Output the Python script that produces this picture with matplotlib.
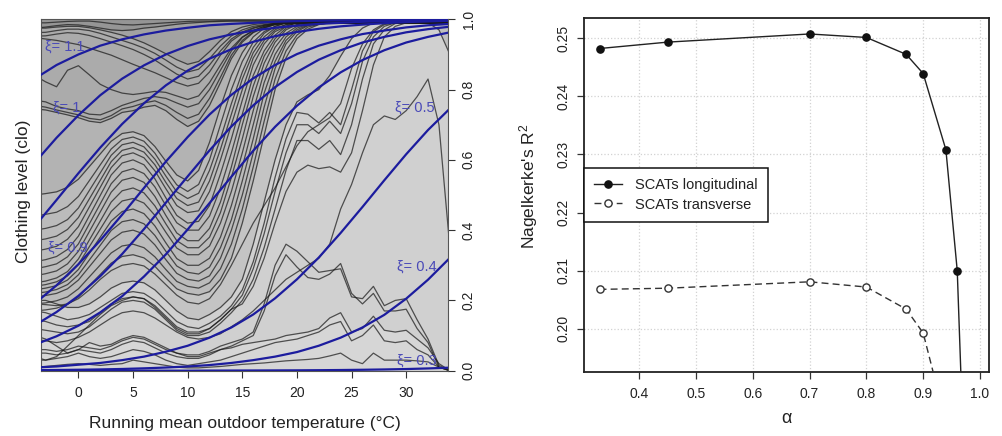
import matplotlib
matplotlib.use("Agg")
import matplotlib.pyplot as plt

plt.rcParams['font.family'] = ['Liberation Sans', 'DejaVu Sans']
plt.rcParams['mathtext.default'] = 'regular'

# ---------------- left panel data ----------------
temp_grid = [-4, -3, -2, -1, 0, 1, 2, 3, 4, 5, 6, 7, 8, 9, 10, 11, 12, 13, 14, 15,
             16, 17, 18, 19, 20, 21, 22, 23, 24, 25, 26, 27, 28, 29, 30, 31, 32, 33, 34]

top_1 = [0.990, 0.990, 0.992, 0.994, 0.995, 0.995, 0.992, 0.988, 0.985, 0.984,
         0.986, 0.988, 0.990, 0.992, 0.994, 0.995, 0.995, 0.996, 0.996, 0.996,
         0.996, 0.996, 0.996, 0.996, 0.996, 0.996, 0.996, 0.996, 0.996, 0.996,
         0.996, 0.996, 0.996, 0.996, 0.996, 0.995, 0.993, 0.990, 0.985]
top_2 = [0.975, 0.978, 0.982, 0.985, 0.984, 0.980, 0.975, 0.970, 0.968, 0.970,
         0.975, 0.978, 0.982, 0.986, 0.989, 0.991, 0.993, 0.994, 0.995, 0.995,
         0.995, 0.994, 0.993, 0.992, 0.992, 0.992, 0.993, 0.994, 0.995, 0.995,
         0.995, 0.995, 0.995, 0.995, 0.995, 0.995, 0.990, 0.970, 0.900]

v_1 = [0.975, 0.975, 0.978, 0.980, 0.980, 0.976, 0.970, 0.963, 0.955, 0.945,
       0.933, 0.918, 0.902, 0.885, 0.872, 0.880, 0.908, 0.940, 0.965, 0.978,
       0.985, 0.989, 0.991, 0.992, 0.993, 0.993, 0.993, 0.993, 0.994, 0.994,
       0.994, 0.994, 0.994, 0.994, 0.994, 0.994, 0.994, 0.994, 0.994]
v_2 = [0.962, 0.963, 0.968, 0.972, 0.972, 0.968, 0.960, 0.950, 0.940, 0.930,
       0.918, 0.903, 0.884, 0.864, 0.850, 0.858, 0.888, 0.924, 0.953, 0.970,
       0.980, 0.985, 0.989, 0.991, 0.992, 0.992, 0.992, 0.992, 0.993, 0.993,
       0.993, 0.993, 0.993, 0.993, 0.993, 0.993, 0.993, 0.993, 0.993]
v_3 = [0.952, 0.953, 0.958, 0.962, 0.960, 0.954, 0.945, 0.935, 0.925, 0.914,
       0.900, 0.884, 0.864, 0.844, 0.830, 0.838, 0.870, 0.910, 0.944, 0.964,
       0.976, 0.983, 0.988, 0.990, 0.991, 0.991, 0.991, 0.992, 0.992, 0.992,
       0.992, 0.992, 0.992, 0.992, 0.992, 0.992, 0.992, 0.992, 0.992]
v_4 = [0.840, 0.822, 0.808, 0.855, 0.868, 0.842, 0.815, 0.800, 0.790, 0.786,
       0.790, 0.795, 0.792, 0.782, 0.772, 0.782, 0.820, 0.870, 0.918, 0.950,
       0.968, 0.980, 0.987, 0.990, 0.991, 0.991, 0.991, 0.991, 0.991, 0.991,
       0.991, 0.991, 0.991, 0.991, 0.991, 0.991, 0.991, 0.991, 0.991]
v_5 = [0.948, 0.944, 0.940, 0.934, 0.928, 0.918, 0.908, 0.898, 0.885, 0.872,
       0.860, 0.848, 0.834, 0.820, 0.810, 0.818, 0.850, 0.898, 0.938, 0.960,
       0.974, 0.983, 0.988, 0.990, 0.991, 0.991, 0.991, 0.991, 0.991, 0.991,
       0.991, 0.991, 0.991, 0.991, 0.991, 0.991, 0.991, 0.991, 0.991]
v_6 = [0.745, 0.742, 0.735, 0.728, 0.720, 0.710, 0.706, 0.718, 0.735, 0.740,
       0.750, 0.755, 0.740, 0.715, 0.695, 0.710, 0.755, 0.820, 0.888, 0.935,
       0.962, 0.976, 0.985, 0.989, 0.990, 0.990, 0.990, 0.990, 0.990, 0.990,
       0.990, 0.990, 0.990, 0.990, 0.990, 0.990, 0.990, 0.990, 0.990]
v_7 = [0.755, 0.750, 0.742, 0.735, 0.728, 0.718, 0.714, 0.726, 0.745, 0.752,
       0.762, 0.768, 0.755, 0.735, 0.718, 0.730, 0.775, 0.835, 0.898, 0.940,
       0.964, 0.977, 0.986, 0.989, 0.990, 0.990, 0.990, 0.990, 0.990, 0.990,
       0.990, 0.990, 0.990, 0.990, 0.990, 0.990, 0.990, 0.990, 0.990]
v_8 = [0.770, 0.765, 0.752, 0.745, 0.740, 0.730, 0.728, 0.740, 0.755, 0.765,
       0.775, 0.780, 0.775, 0.762, 0.750, 0.760, 0.800, 0.855, 0.910, 0.948,
       0.968, 0.980, 0.987, 0.990, 0.990, 0.990, 0.990, 0.990, 0.990, 0.990,
       0.990, 0.990, 0.990, 0.990, 0.990, 0.990, 0.990, 0.990, 0.990]

w_1 = [0.500, 0.504, 0.509, 0.522, 0.545, 0.581, 0.617, 0.653, 0.675, 0.680,
       0.669, 0.638, 0.596, 0.557, 0.540, 0.570, 0.650, 0.750, 0.840, 0.905,
       0.950, 0.975, 0.985, 0.990, 0.990, 0.990, 0.990, 0.990, 0.990, 0.990,
       0.990, 0.990, 0.990, 0.990, 0.990, 0.990, 0.990, 0.990, 0.990]
w_2 = [0.440, 0.445, 0.451, 0.467, 0.496, 0.541, 0.586, 0.631, 0.658, 0.665,
       0.653, 0.619, 0.572, 0.529, 0.510, 0.530, 0.600, 0.700, 0.800, 0.880,
       0.935, 0.965, 0.980, 0.990, 0.990, 0.990, 0.990, 0.990, 0.990, 0.990,
       0.990, 0.990, 0.990, 0.990, 0.990, 0.990, 0.990, 0.990, 0.990]
w_3 = [0.400, 0.405, 0.413, 0.430, 0.463, 0.513, 0.563, 0.613, 0.643, 0.650,
       0.637, 0.602, 0.554, 0.509, 0.490, 0.505, 0.570, 0.660, 0.760, 0.850,
       0.920, 0.960, 0.980, 0.990, 0.990, 0.990, 0.990, 0.990, 0.990, 0.990,
       0.990, 0.990, 0.990, 0.990, 0.990, 0.990, 0.990, 0.990, 0.990]
w_4 = [0.370, 0.375, 0.383, 0.402, 0.436, 0.489, 0.542, 0.595, 0.627, 0.635,
       0.622, 0.586, 0.536, 0.490, 0.470, 0.480, 0.540, 0.630, 0.730, 0.830,
       0.905, 0.950, 0.975, 0.985, 0.990, 0.990, 0.990, 0.990, 0.990, 0.990,
       0.990, 0.990, 0.990, 0.990, 0.990, 0.990, 0.990, 0.990, 0.990]
w_5 = [0.340, 0.346, 0.354, 0.374, 0.410, 0.466, 0.522, 0.578, 0.612, 0.620,
       0.606, 0.569, 0.518, 0.470, 0.450, 0.455, 0.510, 0.600, 0.700, 0.800,
       0.890, 0.940, 0.970, 0.985, 0.990, 0.990, 0.990, 0.990, 0.990, 0.990,
       0.990, 0.990, 0.990, 0.990, 0.990, 0.990, 0.990, 0.990, 0.990]
w_6 = [0.310, 0.316, 0.325, 0.345, 0.383, 0.441, 0.499, 0.557, 0.591, 0.600,
       0.586, 0.546, 0.492, 0.442, 0.420, 0.425, 0.470, 0.560, 0.660, 0.770,
       0.870, 0.930, 0.965, 0.980, 0.990, 0.990, 0.990, 0.990, 0.990, 0.990,
       0.990, 0.990, 0.990, 0.990, 0.990, 0.990, 0.990, 0.990, 0.990]
w_7 = [0.290, 0.296, 0.304, 0.324, 0.361, 0.418, 0.475, 0.532, 0.566, 0.575,
       0.561, 0.523, 0.470, 0.421, 0.400, 0.400, 0.440, 0.520, 0.620, 0.730,
       0.840, 0.910, 0.955, 0.980, 0.990, 0.990, 0.990, 0.990, 0.990, 0.990,
       0.990, 0.990, 0.990, 0.990, 0.990, 0.990, 0.990, 0.990, 0.990]
w_8 = [0.270, 0.276, 0.284, 0.304, 0.340, 0.396, 0.452, 0.508, 0.542, 0.550,
       0.536, 0.496, 0.442, 0.392, 0.370, 0.370, 0.405, 0.480, 0.580, 0.700,
       0.810, 0.895, 0.945, 0.975, 0.985, 0.990, 0.990, 0.990, 0.990, 0.990,
       0.990, 0.990, 0.990, 0.990, 0.990, 0.990, 0.990, 0.990, 0.990]
w_9 = [0.250, 0.255, 0.264, 0.282, 0.318, 0.372, 0.426, 0.480, 0.512, 0.520,
       0.506, 0.469, 0.418, 0.370, 0.350, 0.350, 0.380, 0.450, 0.550, 0.660,
       0.780, 0.875, 0.935, 0.970, 0.985, 0.990, 0.990, 0.990, 0.990, 0.990,
       0.990, 0.990, 0.990, 0.990, 0.990, 0.990, 0.990, 0.990, 0.990]
w_10 = [0.240, 0.245, 0.253, 0.270, 0.303, 0.353, 0.403, 0.453, 0.483, 0.490,
        0.477, 0.442, 0.394, 0.349, 0.330, 0.330, 0.355, 0.420, 0.510, 0.620,
        0.740, 0.850, 0.920, 0.960, 0.980, 0.988, 0.990, 0.990, 0.990, 0.990,
        0.990, 0.990, 0.990, 0.990, 0.990, 0.990, 0.990, 0.990, 0.990]
w_11 = [0.230, 0.235, 0.242, 0.258, 0.288, 0.334, 0.380, 0.426, 0.453, 0.460,
        0.447, 0.412, 0.364, 0.319, 0.300, 0.300, 0.320, 0.380, 0.470, 0.580,
        0.700, 0.820, 0.900, 0.950, 0.975, 0.986, 0.990, 0.990, 0.990, 0.990,
        0.990, 0.990, 0.990, 0.990, 0.990, 0.990, 0.990, 0.990, 0.990]
w_12 = [0.220, 0.224, 0.231, 0.245, 0.273, 0.315, 0.357, 0.399, 0.424, 0.430,
        0.418, 0.385, 0.340, 0.298, 0.280, 0.275, 0.295, 0.350, 0.430, 0.540,
        0.660, 0.790, 0.880, 0.940, 0.970, 0.984, 0.990, 0.990, 0.990, 0.990,
        0.990, 0.990, 0.990, 0.990, 0.990, 0.990, 0.990, 0.990, 0.990]
w_13 = [0.210, 0.214, 0.220, 0.233, 0.258, 0.296, 0.334, 0.372, 0.394, 0.400,
        0.389, 0.358, 0.316, 0.277, 0.260, 0.255, 0.270, 0.320, 0.400, 0.500,
        0.620, 0.750, 0.860, 0.930, 0.965, 0.982, 0.988, 0.990, 0.990, 0.990,
        0.990, 0.990, 0.990, 0.990, 0.990, 0.990, 0.990, 0.990, 0.990]
w_14 = [0.190, 0.193, 0.199, 0.210, 0.233, 0.267, 0.301, 0.335, 0.355, 0.360,
        0.350, 0.324, 0.288, 0.254, 0.240, 0.235, 0.250, 0.290, 0.360, 0.460,
        0.580, 0.710, 0.830, 0.910, 0.955, 0.978, 0.986, 0.990, 0.990, 0.990,
        0.990, 0.990, 0.990, 0.990, 0.990, 0.990, 0.990, 0.990, 0.990]
w_15 = [0.170, 0.173, 0.178, 0.189, 0.210, 0.242, 0.274, 0.306, 0.325, 0.330,
        0.321, 0.297, 0.264, 0.233, 0.220, 0.215, 0.225, 0.260, 0.320, 0.420,
        0.540, 0.670, 0.800, 0.890, 0.945, 0.972, 0.985, 0.990, 0.990, 0.990,
        0.990, 0.990, 0.990, 0.990, 0.990, 0.990, 0.990, 0.990, 0.990]

c_1 = [0.200, 0.200, 0.190, 0.180, 0.180, 0.190, 0.210, 0.235, 0.250, 0.255,
       0.250, 0.230, 0.200, 0.170, 0.150, 0.145, 0.160, 0.180, 0.210, 0.260,
       0.360, 0.480, 0.600, 0.700, 0.765, 0.785, 0.800, 0.840, 0.895, 0.945,
       0.975, 0.990, 0.992, 0.992, 0.992, 0.992, 0.992, 0.992, 0.992]
c_2 = [0.170, 0.165, 0.155, 0.145, 0.150, 0.160, 0.180, 0.200, 0.220, 0.225,
       0.220, 0.200, 0.170, 0.140, 0.125, 0.120, 0.135, 0.155, 0.185, 0.230,
       0.310, 0.420, 0.550, 0.660, 0.735, 0.730, 0.705, 0.735, 0.700, 0.800,
       0.910, 0.965, 0.985, 0.990, 0.990, 0.990, 0.990, 0.990, 0.990]
c_3 = [0.145, 0.140, 0.130, 0.125, 0.130, 0.140, 0.165, 0.190, 0.205, 0.210,
       0.205, 0.185, 0.155, 0.125, 0.110, 0.110, 0.120, 0.145, 0.175, 0.215,
       0.290, 0.390, 0.510, 0.620, 0.700, 0.700, 0.675, 0.710, 0.675, 0.760,
       0.880, 0.950, 0.980, 0.990, 0.990, 0.990, 0.990, 0.990, 0.990]
c_4 = [0.120, 0.115, 0.110, 0.105, 0.110, 0.125, 0.150, 0.175, 0.195, 0.200,
       0.195, 0.175, 0.145, 0.115, 0.100, 0.100, 0.110, 0.135, 0.165, 0.200,
       0.260, 0.350, 0.460, 0.570, 0.655, 0.655, 0.630, 0.655, 0.615, 0.700,
       0.830, 0.930, 0.970, 0.988, 0.990, 0.990, 0.990, 0.990, 0.990]
c_5 = [0.040, 0.030, 0.040, 0.070, 0.100, 0.130, 0.160, 0.185, 0.200, 0.210,
       0.205, 0.180, 0.150, 0.120, 0.105, 0.105, 0.120, 0.145, 0.175, 0.190,
       0.240, 0.320, 0.420, 0.510, 0.565, 0.585, 0.575, 0.580, 0.565, 0.620,
       0.740, 0.870, 0.950, 0.980, 0.990, 0.990, 0.990, 0.990, 0.990]

lone_1 = [0.090, 0.085, 0.080, 0.085, 0.095, 0.110, 0.130, 0.150, 0.165, 0.170,
          0.165, 0.150, 0.130, 0.110, 0.095, 0.090, 0.095, 0.105, 0.125, 0.145,
          0.170, 0.200, 0.230, 0.260, 0.280, 0.300, 0.320, 0.360, 0.460, 0.530,
          0.620, 0.700, 0.725, 0.715, 0.740, 0.780, 0.830, 0.700, 0.350]
lone_2 = [0.190, 0.188, 0.185, 0.190, 0.205, 0.230, 0.260, 0.285, 0.300, 0.305,
          0.298, 0.275, 0.245, 0.215, 0.195, 0.190, 0.205, 0.245, 0.300, 0.360,
          0.420, 0.470, 0.520, 0.580, 0.640, 0.680, 0.700, 0.720, 0.760, 0.860,
          0.930, 0.970, 0.988, 0.990, 0.990, 0.990, 0.990, 0.990, 0.990]

d_1 = [0.060, 0.060, 0.055, 0.060, 0.070, 0.065, 0.060, 0.070, 0.085, 0.095,
       0.090, 0.075, 0.060, 0.050, 0.045, 0.045, 0.055, 0.070, 0.080, 0.090,
       0.110, 0.190, 0.300, 0.360, 0.340, 0.310, 0.280, 0.285, 0.290, 0.210,
       0.205, 0.240, 0.185, 0.200, 0.205, 0.145, 0.090, 0.015, 0.000]
d_2 = [0.050, 0.050, 0.045, 0.050, 0.060, 0.055, 0.050, 0.060, 0.075, 0.085,
       0.080, 0.065, 0.050, 0.040, 0.035, 0.035, 0.045, 0.060, 0.070, 0.085,
       0.100, 0.170, 0.270, 0.330, 0.295, 0.265, 0.260, 0.275, 0.305, 0.220,
       0.190, 0.220, 0.170, 0.170, 0.175, 0.120, 0.080, 0.010, 0.000]

e_1 = [0.100, 0.090, 0.070, 0.050, 0.060, 0.080, 0.070, 0.075, 0.090, 0.100,
       0.095, 0.080, 0.065, 0.050, 0.040, 0.040, 0.050, 0.060, 0.065, 0.075,
       0.080, 0.085, 0.090, 0.100, 0.105, 0.110, 0.120, 0.150, 0.165, 0.110,
       0.120, 0.155, 0.115, 0.110, 0.115, 0.090, 0.065, 0.020, 0.000]
e_2 = [0.030, 0.030, 0.035, 0.040, 0.050, 0.040, 0.035, 0.040, 0.050, 0.060,
       0.055, 0.045, 0.030, 0.020, 0.015, 0.020, 0.025, 0.030, 0.040, 0.050,
       0.060, 0.070, 0.080, 0.085, 0.090, 0.100, 0.110, 0.130, 0.140, 0.085,
       0.100, 0.130, 0.085, 0.080, 0.085, 0.060, 0.045, 0.010, 0.000]
e_3 = [0.010, 0.012, 0.015, 0.018, 0.020, 0.018, 0.015, 0.018, 0.020, 0.030,
       0.025, 0.020, 0.015, 0.010, 0.008, 0.008, 0.010, 0.012, 0.015, 0.018,
       0.020, 0.022, 0.025, 0.028, 0.030, 0.032, 0.035, 0.042, 0.050, 0.030,
       0.020, 0.050, 0.030, 0.030, 0.030, 0.028, 0.025, 0.010, 0.000]

# model curves (blue), one per clothing level
blue_grid = [-4, -2, 0, 2, 4, 6, 8, 10, 12, 14, 16, 18, 20, 22, 24, 26, 28, 30, 32, 34]
model_1 = [0.831, 0.870, 0.900, 0.925, 0.943, 0.957, 0.968, 0.976, 0.983, 0.987,
           0.990, 0.993, 0.995, 0.996, 0.997, 0.998, 0.998, 0.999, 0.999, 0.999]
model_2 = [0.592, 0.663, 0.727, 0.784, 0.831, 0.869, 0.900, 0.924, 0.943, 0.957,
           0.968, 0.976, 0.982, 0.987, 0.990, 0.993, 0.995, 0.996, 0.997, 0.998]
model_3 = [0.411, 0.486, 0.562, 0.635, 0.702, 0.761, 0.812, 0.854, 0.888, 0.915,
           0.936, 0.952, 0.964, 0.973, 0.980, 0.985, 0.989, 0.992, 0.994, 0.996]
model_4 = [0.191, 0.243, 0.303, 0.371, 0.444, 0.520, 0.595, 0.665, 0.729, 0.785,
           0.832, 0.870, 0.901, 0.925, 0.943, 0.958, 0.968, 0.977, 0.983, 0.987]
model_5 = [0.129, 0.167, 0.213, 0.269, 0.332, 0.403, 0.478, 0.553, 0.627, 0.695,
           0.755, 0.807, 0.850, 0.885, 0.912, 0.934, 0.950, 0.963, 0.972, 0.979]
model_6 = [0.074, 0.098, 0.128, 0.166, 0.212, 0.268, 0.331, 0.402, 0.477, 0.552,
           0.626, 0.694, 0.754, 0.806, 0.849, 0.884, 0.912, 0.934, 0.950, 0.963]
model_7 = [0.009, 0.012, 0.017, 0.022, 0.030, 0.040, 0.054, 0.071, 0.094, 0.123,
           0.160, 0.206, 0.260, 0.322, 0.392, 0.466, 0.542, 0.616, 0.685, 0.746]
model_8 = [0.0015, 0.002, 0.0027, 0.0036, 0.0049, 0.0067, 0.009, 0.012, 0.016, 0.022,
           0.030, 0.040, 0.053, 0.071, 0.094, 0.123, 0.159, 0.205, 0.259, 0.321]
model_9 = [0.0, 0.0, 0.0, 0.0, 0.0, 0.0, 0.0, 0.0, 0.0003, 0.0004,
           0.0006, 0.0008, 0.001, 0.0014, 0.0019, 0.0026, 0.0035, 0.0047, 0.0064, 0.0086]

level_labels = ["ξ= 1.1", "ξ= 1", "ξ= 0.9", "ξ= 0.5", "ξ= 0.4", "ξ= 0.3"]
label_x = [-3.05, -2.3, -2.8, 29.0, 29.2, 29.2]
label_y = [0.923, 0.748, 0.349, 0.749, 0.297, 0.028]

temp_ticks = [0, 5, 10, 15, 20, 25, 30]
clo_ticks = [0.0, 0.2, 0.4, 0.6, 0.8, 1.0]

# ---------------- right panel data ----------------
alpha_long = [0.33, 0.45, 0.70, 0.80, 0.87, 0.90, 0.94, 0.96, 0.99]
r2_long = [0.2482, 0.2493, 0.2507, 0.2501, 0.2472, 0.2439, 0.2308, 0.2100, 0.127]
alpha_trans = [0.33, 0.45, 0.70, 0.80, 0.87, 0.90, 0.94]
r2_trans = [0.2068, 0.2070, 0.2081, 0.2072, 0.2034, 0.1993, 0.184]
alpha_ticks = [0.4, 0.5, 0.6, 0.7, 0.8, 0.9, 1.0]
r2_ticks = [0.20, 0.21, 0.22, 0.23, 0.24, 0.25]

# ---------------- drawing ----------------
fig = plt.figure(figsize=(10.02, 4.36), dpi=100)

ax1 = fig.add_axes([0.0412, 0.1498, 0.4056, 0.8059])
ax1.set_facecolor('#d6d6d6')

shade_layers = [(e_1, 0.025), (c_1, 0.055), (w_15, 0.045), (w_1, 0.04),
                (v_6, 0.045), (v_1, 0.05), (top_2, 0.08)]
for curve, a in shade_layers:
    ax1.fill_between(temp_grid, curve, 1.0, color='black', alpha=a,
                     linewidth=0, zorder=1)

black_curves = [top_1, top_2, v_1, v_2, v_3, v_4, v_5, v_6, v_7, v_8,
                w_1, w_2, w_3, w_4, w_5, w_6, w_7, w_8, w_9, w_10, w_11, w_12,
                w_13, w_14, w_15, c_1, c_2, c_3, c_4, c_5, lone_1, lone_2,
                d_1, d_2, e_1, e_2, e_3]
for c in black_curves:
    ax1.plot(temp_grid, c, color='#1a1a1a', lw=0.9, alpha=0.72, zorder=2)

blue_curves = [model_1, model_2, model_3, model_4, model_5, model_6,
               model_7, model_8, model_9]
for c in blue_curves:
    ax1.plot(blue_grid, c, color='#1c1c9e', lw=1.6, zorder=3)

for t, x, y in zip(level_labels, label_x, label_y):
    ax1.text(x, y, t, color='#4a4ab8', fontsize=10.5, ha='left', va='center', zorder=4)

ax1.set_xlim(-3.4, 33.8)
ax1.set_ylim(0, 1)
ax1.set_xticks(temp_ticks)
ax1.set_xticklabels([str(t) for t in temp_ticks])
ax1.yaxis.tick_right()
ax1.set_yticks(clo_ticks)
ax1.set_yticklabels(['%.1f' % v for v in clo_ticks])
ax1.tick_params(axis='x', length=5, width=0.8, colors='#333', labelsize=10,
                pad=6, labelcolor='#222')
ax1.tick_params(axis='y', length=5, width=0.8, colors='#333', labelsize=10,
                pad=5, labelrotation=90, labelcolor='#222')
for lab in ax1.get_yticklabels():
    lab.set_va('center')
for sp in ax1.spines.values():
    sp.set_color('#555')
    sp.set_linewidth(0.8)

fig.text(244.5 / 1002, (436 - 423.5) / 436, 'Running mean outdoor temperature (°C)',
         ha='center', va='center', fontsize=12.5, color='#222')
fig.text(24 / 1002, (436 - 191) / 436, 'Clothing level (clo)', rotation=90,
         ha='center', va='center', fontsize=12.5, color='#222')

# right panel
ax2 = fig.add_axes([0.5828, 0.1475, 0.4045, 0.8106])
ax2.grid(True, color='#d2d2d2', linestyle=':', linewidth=0.9)
ax2.set_axisbelow(True)
ax2.plot(alpha_long, r2_long, color='#222', lw=1.0, marker='o', ms=5.2,
         mfc='#111', mec='#111', label='SCATs longitudinal', zorder=3)
ax2.plot(alpha_trans, r2_trans, color='#333', lw=1.0, linestyle=(0, (5, 3)),
         marker='o', ms=5.2, mfc='white', mec='#333', mew=1.0,
         label='SCATs transverse', zorder=3)
ax2.set_xlim(0.3026, 1.0164)
ax2.set_ylim(0.19265, 0.2534)
ax2.set_xticks(alpha_ticks)
ax2.set_xticklabels(['%.1f' % v for v in alpha_ticks])
ax2.set_yticks(r2_ticks)
ax2.set_yticklabels(['%.2f' % v for v in r2_ticks])
ax2.tick_params(axis='x', length=5, width=0.9, colors='#333', labelsize=10,
                pad=6, labelcolor='#222')
ax2.tick_params(axis='y', length=5, width=0.9, colors='#333', labelsize=10,
                pad=5, labelrotation=90, labelcolor='#222')
for lab in ax2.get_yticklabels():
    lab.set_va('center')
for sp in ax2.spines.values():
    sp.set_color('#222')
    sp.set_linewidth(1.3)

leg = ax2.legend(loc='upper left', bbox_to_anchor=(0.0, 0.5756), borderaxespad=0,
                 fontsize=10.5, handlelength=1.9, handletextpad=0.9, borderpad=0.7,
                 labelspacing=0.35, fancybox=False, framealpha=1, edgecolor='#111')
leg.get_frame().set_linewidth(1.1)
for t in leg.get_texts():
    t.set_color('#222')

fig.text(528.5 / 1002, (436 - 185.8) / 436, "Nagelkerke's R$^{2}$", rotation=90,
         ha='center', va='center', fontsize=12.5, color='#222')
fig.text(786.7 / 1002, (436 - 418.3) / 436, 'α', ha='center', va='center',
         fontsize=13, color='#222')

fig.savefig('out.png', dpi=100)
